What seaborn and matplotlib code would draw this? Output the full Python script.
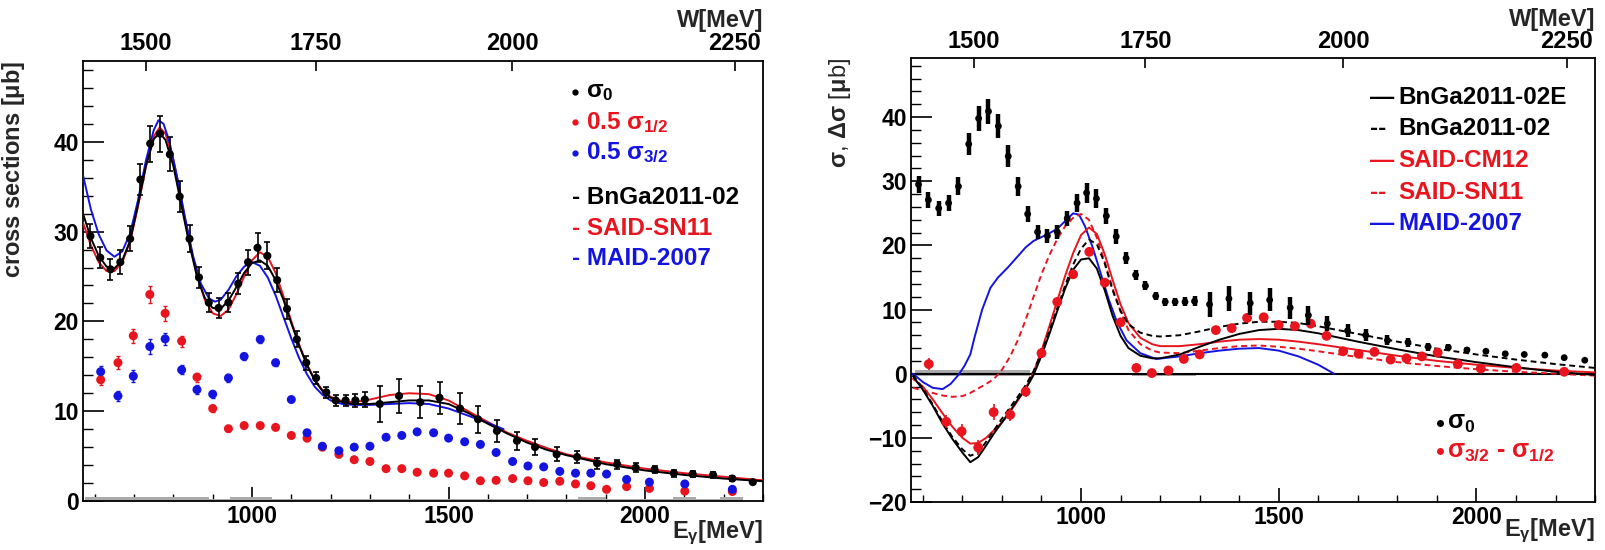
import matplotlib
matplotlib.use("Agg")
import matplotlib.pyplot as plt
import numpy as np
import seaborn as sns
from matplotlib.ticker import MultipleLocator, FixedLocator

# ------------------------------------------------
# Data (E_gamma in MeV, cross sections in microbarn)
# ------------------------------------------------

sig0_E = [589, 614, 640, 665, 690, 716, 741, 766, 791, 816, 841, 865, 890, 915,
          940, 965, 990, 1014, 1039, 1064, 1089, 1114, 1138, 1163, 1189, 1213,
          1238, 1263, 1287, 1325, 1374, 1428, 1477, 1529, 1575, 1623, 1674, 1720,
          1775, 1827, 1878, 1929, 1976, 2024, 2073, 2121, 2173, 2222, 2274]
sig0 = [29.5, 27.1, 25.8, 26.6, 29.2, 35.8, 39.8, 40.9, 38.6, 33.9, 29.2, 24.9,
        22.1, 21.5, 22.1, 24.2, 26.6, 28.2, 27.3, 24.6, 21.4, 18.0, 15.4, 13.7,
        12.1, 11.2, 11.2, 11.2, 11.3, 10.8, 11.7, 11.0, 11.5, 10.3, 9.1, 7.8,
        6.7, 6.0, 5.2, 4.9, 4.2, 4.1, 3.7, 3.5, 3.1, 3.0, 2.9, 2.5, 2.1]
sig0_err = [1.3, 1.2, 1.2, 1.3, 1.4, 1.7, 2.0, 2.0, 1.9, 1.7, 1.5, 1.2, 1.1, 1.1,
            1.1, 1.2, 1.4, 1.6, 1.5, 1.3, 1.1, 0.9, 0.8, 0.7, 0.6, 0.6, 0.6, 0.7,
            0.8, 2.0, 1.9, 1.8, 1.8, 1.7, 1.5, 1.2, 1.0, 0.9, 0.8, 0.7, 0.6, 0.5,
            0.5, 0.4, 0.4, 0.3, 0.3, 0.3, 0.2]

hel_E = [615, 659, 698, 740, 779, 821, 860, 900, 940, 980, 1021, 1060, 1100,
         1140, 1179, 1221, 1260, 1300, 1341, 1381, 1420, 1462, 1500, 1541, 1581,
         1621, 1663, 1702, 1742, 1783, 1823, 1862, 1902, 1953, 2011, 2101, 2222]
half_sig12 = [13.5, 15.4, 18.4, 23.0, 20.9, 17.8, 13.8, 10.3, 8.05, 8.4, 8.4, 8.2,
              7.3, 7.0, 6.0, 5.2, 4.6, 4.4, 3.6, 3.6, 3.2, 3.1, 3.1, 2.8, 2.25,
              2.3, 2.5, 2.25, 2.06, 2.2, 1.9, 1.7, 1.3, 1.6, 1.4, 1.1, 1.05]
half_sig12_err = [0.6, 0.7, 0.8, 0.9, 0.8, 0.6, 0.5, 0.4, 0.3, 0.3, 0.3, 0.3, 0.3,
                  0.3, 0.3, 0.3, 0.2, 0.2, 0.2, 0.2, 0.2, 0.2, 0.2, 0.2, 0.2, 0.2,
                  0.2, 0.2, 0.2, 0.2, 0.2, 0.2, 0.2, 0.2, 0.2, 0.2, 0.2]
half_sig32 = [14.4, 11.7, 13.9, 17.2, 18.05, 14.6, 12.4, 11.9, 13.7, 16.1, 18.0,
              15.4, 11.3, 7.6, 6.1, 5.6, 6.0, 6.1, 7.1, 7.3, 7.7, 7.6, 7.0, 6.6,
              6.3, 5.4, 4.4, 3.9, 3.8, 3.3, 3.1, 3.1, 3.0, 2.4, 2.1, 1.9, 1.3]
half_sig32_err = [0.6, 0.6, 0.7, 0.8, 0.7, 0.5, 0.5, 0.4, 0.4, 0.4, 0.4, 0.4, 0.3,
                  0.3, 0.3, 0.3, 0.2, 0.2, 0.2, 0.2, 0.2, 0.2, 0.2, 0.2, 0.2, 0.2,
                  0.2, 0.2, 0.2, 0.2, 0.2, 0.2, 0.2, 0.2, 0.2, 0.2, 0.2]

dsig = [1.5, -7.5, -9.0, -11.5, -6.0, -6.4, -2.8, 3.2, 11.2, 15.5, 19.0, 14.2,
        8.0, 0.9, 0.1, 0.5, 2.3, 3.0, 6.8, 7.1, 8.7, 8.8, 7.6, 7.4, 7.8, 5.9,
        3.5, 3.1, 3.4, 2.2, 2.4, 2.7, 3.3, 1.5, 0.8, 0.9, 0.3]
dsig_err = [1.0, 1.0, 1.1, 1.2, 1.2, 1.0, 0.9, 0.8, 0.7, 0.6, 0.6, 0.5, 0.5,
            0.4, 0.4, 0.4, 0.4, 0.3, 0.3, 0.3, 0.3, 0.3, 0.3, 0.3, 0.3, 0.3,
            0.3, 0.3, 0.3, 0.3, 0.3, 0.3, 0.3, 0.3, 0.3, 0.3, 0.3]

# ------------------------------------------------
# Model curves, left panel (unpolarised sigma_0)
# ------------------------------------------------

curve_E = [570, 590, 610, 630, 650, 670, 690, 710, 730, 750, 765, 780, 800, 820,
           840, 860, 880, 900, 920, 940, 960, 980, 1000, 1020, 1040, 1060, 1080,
           1100, 1120, 1140, 1160, 1180, 1200, 1230, 1260, 1300, 1350, 1400, 1450,
           1500, 1550, 1600, 1650, 1700, 1750, 1800, 1900, 2000, 2100, 2200, 2300]
bnga_sig0 = [32.0, 29.3, 27.3, 26.1, 25.9, 26.8, 29.0, 33.0, 37.3, 40.3, 41.0,
             40.2, 37.3, 33.0, 28.7, 25.0, 22.6, 21.5, 21.4, 22.3, 23.8, 25.4,
             26.5, 26.8, 26.2, 24.6, 22.4, 19.8, 17.3, 15.1, 13.4, 12.2, 11.5,
             11.0, 10.8, 10.8, 11.0, 11.2, 11.2, 10.8, 9.8, 8.6, 7.5, 6.5, 5.7,
             5.1, 4.1, 3.4, 2.9, 2.5, 2.2]
said_sig0 = [31.0, 28.5, 26.6, 25.6, 25.6, 26.6, 28.9, 32.8, 37.2, 40.6, 41.6,
             40.9, 38.0, 33.6, 29.1, 25.1, 22.4, 20.9, 20.6, 21.3, 23.0, 25.0,
             26.8, 27.7, 27.2, 25.4, 22.8, 20.0, 17.4, 15.2, 13.5, 12.3, 11.6,
             11.1, 11.0, 11.3, 11.8, 12.0, 11.9, 11.2, 10.0, 8.8, 7.6, 6.7, 5.9,
             5.2, 4.3, 3.6, 3.1, 2.7, 2.3]

maid_E = [570, 590, 610, 630, 650, 670, 690, 710, 730, 750, 762, 775, 790, 810,
          830, 850, 870, 890, 905, 920, 940, 960, 980, 1000, 1020, 1040, 1060,
          1080, 1100, 1120, 1140, 1160, 1180, 1200, 1230, 1260, 1300, 1350, 1400,
          1450, 1500, 1550, 1600, 1640]
maid_sig0 = [36.3, 32.5, 29.7, 27.9, 27.2, 27.8, 29.8, 33.5, 37.9, 41.3, 42.4,
             42.0, 40.0, 36.0, 31.5, 27.3, 24.2, 22.6, 22.2, 22.4, 23.5, 25.0,
             26.1, 26.6, 26.2, 24.9, 22.9, 20.5, 18.1, 15.9, 14.1, 12.7, 11.8,
             11.2, 10.8, 10.7, 10.7, 10.8, 10.9, 10.8, 10.3, 9.5, 8.7, 8.0]

# ------------------------------------------------
# Model curves, right panel (helicity difference)
# ------------------------------------------------

dcurve_E = [575, 600, 625, 650, 675, 700, 720, 740, 760, 780, 800, 820, 840, 860,
            880, 900, 920, 940, 960, 980, 1000, 1020, 1040, 1060, 1080, 1100,
            1120, 1150, 1180, 1200, 1250, 1300, 1350, 1400, 1450, 1500, 1550,
            1600, 1700, 1800, 1900, 2000, 2100, 2200, 2300]
bnga_e_dsig = [-0.4, -2.5, -5.0, -7.8, -10.2, -12.3, -13.8, -13.0, -11.2, -9.3,
               -7.6, -5.9, -4.0, -2.4, -0.2, 2.8, 6.2, 9.8, 13.3, 16.2, 17.8,
               18.0, 16.4, 13.0, 9.0, 5.9, 4.0, 2.8, 2.4, 2.4, 3.0, 4.2, 5.3,
               6.2, 6.8, 7.0, 6.8, 6.3, 5.0, 3.8, 2.7, 1.8, 1.0, 0.3, -0.2]
bnga_dsig = [-0.2, -2.3, -4.8, -7.5, -9.9, -11.8, -12.8, -12.3, -10.6, -8.8,
             -7.0, -5.3, -3.6, -1.8, 0.4, 3.3, 6.7, 10.2, 13.8, 17.0, 19.5, 20.9,
             20.2, 17.2, 13.0, 9.8, 7.7, 6.4, 5.9, 5.8, 6.0, 6.6, 7.3, 7.8, 8.1,
             8.1, 7.9, 7.4, 6.2, 5.0, 3.9, 3.0, 2.2, 1.5, 0.9]
said_cm_dsig = [-0.8, -2.0, -4.0, -6.2, -8.3, -10.0, -10.9, -10.8, -10.0, -8.8,
                -7.6, -6.0, -4.2, -2.3, 0.2, 3.6, 7.4, 11.4, 15.3, 18.8, 21.6,
                22.8, 21.8, 18.6, 14.6, 10.8, 7.9, 5.6, 4.6, 4.3, 4.3, 4.6, 5.0,
                5.3, 5.4, 5.3, 5.0, 4.6, 3.7, 2.8, 2.0, 1.4, 0.9, 0.5, 0.2]
said_sn_dsig = [-2.2, -2.6, -3.0, -3.4, -3.6, -3.5, -3.0, -2.3, -1.6, -0.8, 0.6,
                2.6, 5.2, 8.4, 12.0, 15.5, 18.5, 21.0, 23.0, 24.3, 24.9, 24.0,
                21.2, 17.4, 13.3, 9.7, 6.8, 4.6, 3.6, 3.3, 3.2, 3.6, 4.0, 4.3,
                4.4, 4.2, 3.9, 3.5, 2.6, 1.8, 1.2, 0.7, 0.3, 0.0, -0.3]

maid_dE = [575, 600, 625, 650, 670, 690, 705, 720, 730, 750, 771, 790, 814, 840,
           860, 880, 900, 920, 940, 960, 980, 995, 1010, 1030, 1050, 1070, 1090,
           1115, 1150, 1190, 1250, 1300, 1350, 1400, 1450, 1500, 1550, 1600, 1640]
maid_dsig = [0.0, -1.3, -2.2, -2.4, -1.6, -0.2, 1.2, 3.0, 5.5, 10.0, 13.4, 15.0,
             16.5, 18.3, 19.7, 20.7, 21.3, 21.9, 22.6, 23.8, 25.0, 24.8, 23.0,
             19.6, 15.6, 11.6, 8.2, 5.2, 3.2, 2.3, 2.7, 3.2, 3.6, 3.9, 4.0, 3.6,
             2.7, 1.4, 0.0]

# systematic-error bands along the baseline
left_band_lo = [575, 890, 945, 1050, 1830, 1900, 2070, 2130, 2190]
left_band_hi = [890, 945, 1050, 1830, 1900, 2070, 2130, 2190, 2250]
left_band_h = [0.45, 0.25, 0.45, 0.25, 0.45, 0.25, 0.45, 0.25, 0.45]
right_band_lo = [580, 1130]
right_band_hi = [870, 1290]
right_band_h = [0.8, 0.35]

BLACK = "black"
RED = "#e8141e"
BLUE = "#1414e0"
GRAY = "#aaaaaa"

M_P = 938.27


def e_to_w(e):
    return np.sqrt(np.maximum(M_P ** 2 + 2 * M_P * np.asarray(e, float), 1.0))


def w_to_e(w):
    w = np.asarray(w, float)
    return (w ** 2 - M_P ** 2) / (2 * M_P)


def main():
    sns.set_theme(style="white")
    plt.rcParams.update({
        "font.family": ["Liberation Sans", "DejaVu Sans"],
        "font.weight": "bold",
        "mathtext.fontset": "custom",
        "mathtext.rm": "Liberation Sans",
        "mathtext.it": "Liberation Sans",
        "mathtext.bf": "Liberation Sans:bold",
        "axes.edgecolor": "black",
        "axes.linewidth": 1.3,
        "xtick.color": "black",
        "ytick.color": "black",
    })

    fig = plt.figure(figsize=(16.05, 5.5), dpi=100)
    ax1 = fig.add_axes([0.0517, 0.0891, 0.4237, 0.800])
    ax2 = fig.add_axes([0.5676, 0.0873, 0.4262, 0.807])

    narrow = ["Liberation Sans Narrow", "Liberation Sans", "DejaVu Sans"]

    # ------------------------------------------------
    # Common axis styling (ROOT-like inward ticks)
    # ------------------------------------------------

    for ax in (ax1, ax2):
        ax.set_xlim(570, 2300)
        ax.xaxis.set_major_locator(FixedLocator([1000, 1500, 2000]))
        ax.xaxis.set_minor_locator(MultipleLocator(100))
        ax.yaxis.set_major_locator(MultipleLocator(10))
        ax.yaxis.set_minor_locator(MultipleLocator(2))
        ax.tick_params(axis="x", which="major", direction="in", length=10, width=1.2,
                       bottom=True, top=False, labelsize=16.5, pad=3)
        ax.tick_params(axis="x", which="minor", direction="in", length=5, width=1.0,
                       bottom=True, top=False)
        ax.tick_params(axis="y", which="major", direction="in", length=15, width=1.2,
                       left=True, right=False, labelsize=16.5, pad=3)
        ax.tick_params(axis="y", which="minor", direction="in", length=7, width=1.0,
                       left=True, right=False)
        for sp in ax.spines.values():
            sp.set_color("black")
            sp.set_linewidth(1.3)

        sec = ax.secondary_xaxis("top", functions=(e_to_w, w_to_e))
        sec.set_xticks([1500, 1750, 2000, 2250])
        sec.tick_params(axis="x", direction="in", length=7, width=1.2, pad=4)
        for lbl in sec.get_xticklabels():
            lbl.set_family(narrow)
            lbl.set_fontsize(17)
            lbl.set_fontweight("bold")
        sec.spines["top"].set_visible(False)
        ax.text(1.0, 1.093 if ax is ax1 else 1.086, "W[MeV]", transform=ax.transAxes,
                ha="right", va="center", fontsize=17, family=narrow, fontweight="bold")

        ax.set_xlabel(r"E$_\gamma$[MeV]", loc="right", fontsize=17, fontweight="bold")

    # ------------------------------------------------
    # Left panel: sigma_0 and helicity cross sections
    # ------------------------------------------------

    ax1.set_ylim(0, 49)
    ax1.bar(left_band_lo, left_band_h, width=np.subtract(left_band_hi, left_band_lo),
            align="edge", color=GRAY, linewidth=0, zorder=1)

    sns.lineplot(x=curve_E, y=said_sig0, ax=ax1, color=RED, lw=1.4,
                 estimator=None, sort=False, zorder=3)
    sns.lineplot(x=maid_E, y=maid_sig0, ax=ax1, color=BLUE, lw=1.4,
                 estimator=None, sort=False, zorder=3)
    sns.lineplot(x=curve_E, y=bnga_sig0, ax=ax1, color=BLACK, lw=1.4,
                 estimator=None, sort=False, zorder=3)

    ax1.errorbar(hel_E, half_sig12, yerr=half_sig12_err, fmt="none", ecolor=RED,
                 elinewidth=1.0, capsize=1.5, zorder=4)
    ax1.errorbar(hel_E, half_sig32, yerr=half_sig32_err, fmt="none", ecolor=BLUE,
                 elinewidth=1.0, capsize=1.5, zorder=4)
    sns.scatterplot(x=hel_E, y=half_sig12, ax=ax1, color=RED, s=42, edgecolor="none",
                    zorder=5)
    sns.scatterplot(x=hel_E, y=half_sig32, ax=ax1, color=BLUE, s=42, edgecolor="none",
                    zorder=5)

    ax1.errorbar(sig0_E, sig0, yerr=sig0_err, fmt="none", ecolor=BLACK,
                 elinewidth=1.2, capsize=2.5, capthick=1.2, zorder=6)
    sns.scatterplot(x=sig0_E, y=sig0, ax=ax1, color=BLACK, s=34, edgecolor="none",
                    zorder=7)

    ax1.set_ylabel(r"cross sections [$\mu$b]", loc="top", fontsize=17, fontweight="bold")
    ax1.yaxis.set_label_coords(-0.082, 1.0)
    ax1.xaxis.set_label_coords(1.0, -0.039)

    # legend, left panel
    lx_dot, lx_txt = 0.719, 0.740
    rows = [
        (0.930, r"$\sigma_0$", BLACK, True),
        (0.861, r"0.5 $\sigma_{1/2}$", RED, True),
        (0.791, r"0.5 $\sigma_{3/2}$", BLUE, True),
        (0.689, "- BnGa2011-02", BLACK, False),
        (0.620, "- SAID-SN11", RED, False),
        (0.552, "- MAID-2007", BLUE, False),
    ]
    for y, txt, col, dot in rows:
        if dot:
            ax1.plot([lx_dot + 0.004], [y], "o", color=col, ms=3.5,
                     transform=ax1.transAxes, clip_on=False)
            ax1.text(lx_txt, y, txt, transform=ax1.transAxes, color=col,
                     fontsize=17.5, fontweight="bold", va="center", ha="left")
        else:
            ax1.text(lx_dot, y, txt, transform=ax1.transAxes, color=col,
                     fontsize=17.5, fontweight="bold", va="center", ha="left")

    # ------------------------------------------------
    # Right panel: sigma_0 and sigma_3/2 - sigma_1/2
    # ------------------------------------------------

    ax2.set_ylim(-20, 49.2)
    ax2.bar(right_band_lo, right_band_h, width=np.subtract(right_band_hi, right_band_lo),
            bottom=-0.3, align="edge", color=GRAY, linewidth=0, zorder=1)
    ax2.axhline(0, color=BLACK, lw=1.5, zorder=2)

    sns.lineplot(x=maid_dE, y=maid_dsig, ax=ax2, color=BLUE, lw=1.4,
                 estimator=None, sort=False, zorder=3)
    sns.lineplot(x=dcurve_E, y=said_sn_dsig, ax=ax2, color=RED, lw=1.4,
                 linestyle=(0, (3, 2)), estimator=None, sort=False, zorder=3)
    sns.lineplot(x=dcurve_E, y=said_cm_dsig, ax=ax2, color=RED, lw=1.4,
                 estimator=None, sort=False, zorder=3)
    sns.lineplot(x=dcurve_E, y=bnga_dsig, ax=ax2, color=BLACK, lw=1.4,
                 linestyle=(0, (3, 2)), estimator=None, sort=False, zorder=3)
    sns.lineplot(x=dcurve_E, y=bnga_e_dsig, ax=ax2, color=BLACK, lw=1.4,
                 estimator=None, sort=False, zorder=3)

    ax2.errorbar(hel_E, dsig, yerr=dsig_err, fmt="none", ecolor=RED,
                 elinewidth=1.2, capsize=0, zorder=4)
    sns.scatterplot(x=hel_E, y=dsig, ax=ax2, color=RED, s=50, edgecolor="none",
                    zorder=5)

    ax2.errorbar(sig0_E, sig0, yerr=sig0_err, fmt="none", ecolor=BLACK,
                 elinewidth=3.2, capsize=0, zorder=6)
    sns.scatterplot(x=sig0_E, y=sig0, ax=ax2, color=BLACK, s=24, edgecolor="none",
                    zorder=7)

    ax2.set_ylabel(r"$\sigma$, $\Delta\sigma$ [$\mu$b]", loc="top", fontsize=17,
                   fontweight="normal")
    ax2.yaxis.set_label_coords(-0.085, 1.0)
    ax2.xaxis.set_label_coords(1.0, -0.034)

    # legend, right panel
    rx_line, rx_txt = 0.671, 0.713
    rrows = [
        (0.912, "\u2014", "BnGa2011-02E", BLACK),
        (0.842, "--", "BnGa2011-02", BLACK),
        (0.770, "\u2014", "SAID-CM12", RED),
        (0.698, "--", "SAID-SN11", RED),
        (0.628, "\u2014", "MAID-2007", BLUE),
    ]
    for y, mark, txt, col in rrows:
        ax2.text(rx_line, y, mark, transform=ax2.transAxes, color=col,
                 fontsize=17.5, fontweight="bold", va="center", ha="left")
        ax2.text(rx_txt, y, txt, transform=ax2.transAxes, color=col,
                 fontsize=17.5, fontweight="bold", va="center", ha="left")

    for y, txt, col in [(0.178, r"$\sigma_0$", BLACK),
                        (0.115, r"$\sigma_{3/2}$ - $\sigma_{1/2}$", RED)]:
        ax2.plot([0.773], [y], "o", color=col, ms=4, transform=ax2.transAxes,
                 clip_on=False)
        ax2.text(0.784, y, txt, transform=ax2.transAxes, color=col,
                 fontsize=18, va="center", ha="left")

    fig.savefig("out.png", dpi=100)


if __name__ == "__main__":
    main()
